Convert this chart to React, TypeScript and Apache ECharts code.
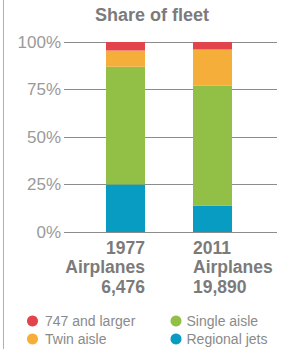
import React, { useEffect, useRef } from "react";
import * as echarts from "echarts";

const years = ["1977", "2011"];
const fleetSizes = ["6,476", "19,890"];
const yTicks = [0, 25, 50, 75, 100];
const regionalJets = [25, 14];
const singleAisle = [62, 63];
const twinAisle = [8.5, 19];
const largeJets = [4.5, 4];

const seriesNames = ["Regional jets", "Single aisle", "Twin aisle", "747 and larger"];
const seriesData = [regionalJets, singleAisle, twinAisle, largeJets];
const colors = ["#089cc3", "#92c046", "#f6ae3a", "#e3434a"];

const FONT = "'Liberation Sans', Arial, Helvetica, sans-serif";

export default function App() {
  const ref = useRef<HTMLDivElement>(null);
  useEffect(() => {
    document.body.style.margin = "0";
    const chart = echarts.init(ref.current!, null, { renderer: "svg" });
    const labelData = years.map((y, i) => ({
      value: `${y}\nAirplanes\n${fleetSizes[i]}`,
      textStyle: { align: i === 0 ? "right" : "left" },
    }));
    chart.setOption({
      animation: false,
      backgroundColor: "#ffffff",
      title: {
        text: "Share of fleet",
        left: 95,
        top: 6,
        padding: 0,
        textStyle: { fontFamily: FONT, fontSize: 18, fontWeight: "bold", color: "#7b7b7b" },
      },
      graphic: [
        {
          type: "line",
          shape: { x1: 3.5, y1: 0, x2: 3.5, y2: 349 },
          style: { stroke: "#b0b0b0", lineWidth: 1 },
        },
      ],
      legend: [
        {
          data: ["747 and larger", "Twin aisle"],
          orient: "vertical",
          left: 27,
          top: 314,
          padding: 0,
          itemWidth: 11,
          itemHeight: 11,
          itemGap: 4,
          icon: "circle",
          textStyle: { fontFamily: FONT, fontSize: 14, color: "#8a8a8a", lineHeight: 14, padding: [0, 0, 0, 2] },
        },
        {
          data: ["Single aisle", "Regional jets"],
          orient: "vertical",
          left: 170.5,
          top: 314,
          padding: 0,
          itemWidth: 11,
          itemHeight: 11,
          itemGap: 4,
          icon: "circle",
          textStyle: { fontFamily: FONT, fontSize: 14, color: "#8a8a8a", lineHeight: 14, padding: [0, 0, 0, 0] },
        },
      ],
      grid: [
        { left: 64, right: 7, top: 42, bottom: 117 },
        { left: 82, width: 174, top: 42, bottom: 117 },
        { left: 121, width: 96, top: 42, bottom: 117 },
      ],
      xAxis: [
        { gridIndex: 0, type: "value", show: false, min: 0, max: 1 },
        { gridIndex: 1, type: "category", data: years, show: false },
        {
          gridIndex: 2,
          type: "category",
          data: labelData,
          axisLine: { show: false },
          axisTick: { show: false },
          axisLabel: {
            margin: 6,
            fontFamily: FONT,
            fontSize: 17.5,
            fontWeight: "bold",
            lineHeight: 19.5,
            color: "#7b7b7b",
            interval: 0,
          },
        },
      ],
      yAxis: [
        {
          gridIndex: 0,
          type: "value",
          min: yTicks[0],
          max: yTicks[yTicks.length - 1],
          interval: 25,
          axisLine: { show: false },
          axisTick: { show: false },
          axisLabel: {
            formatter: "{value}%",
            margin: 3,
            fontFamily: FONT,
            fontSize: 17,
            color: "#9a9a9a",
          },
          splitLine: { lineStyle: { color: "#8c8c8c", width: 1.2 } },
        },
        { gridIndex: 1, type: "value", min: 0, max: 100, show: false },
        { gridIndex: 2, type: "value", min: 0, max: 100, show: false },
      ],
      series: seriesNames.map((name, i) => ({
        name,
        type: "bar",
        stack: "fleet",
        xAxisIndex: 1,
        yAxisIndex: 1,
        barWidth: 39,
        data: seriesData[i],
        itemStyle: { color: colors[i] },
      })),
    });
    return () => chart.dispose();
  }, []);
  return <div ref={ref} style={{ width: 284, height: 349 }} />;
}
